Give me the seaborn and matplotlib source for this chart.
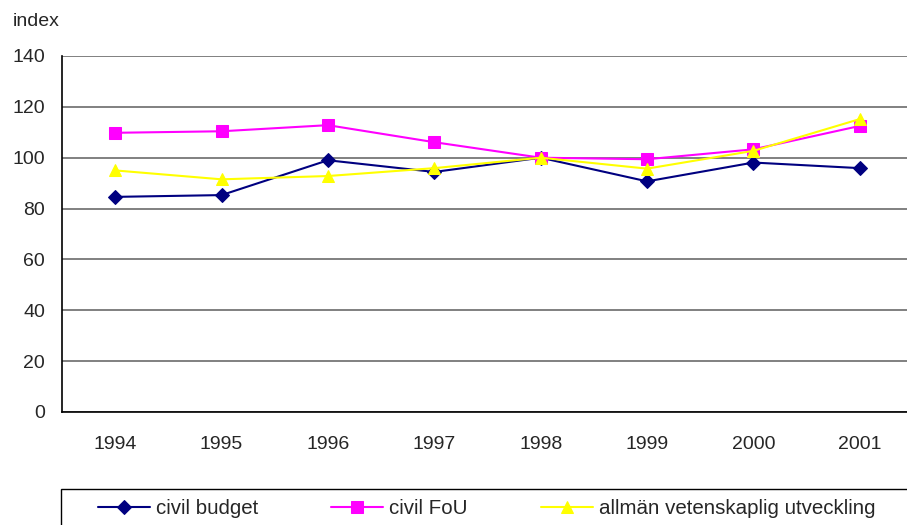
import matplotlib
matplotlib.use("Agg")
import matplotlib.pyplot as plt
from matplotlib.patches import Rectangle
import seaborn as sns
import pandas as pd
import numpy as np

years = ["1994", "1995", "1996", "1997", "1998", "1999", "2000", "2001"]
civil_budget = [84.6, 85.3, 99.0, 94.4, 100.0, 90.7, 98.1, 95.9]
civil_fou = [109.8, 110.4, 112.8, 106.1, 100.0, 99.4, 103.3, 112.5]
allman = [95.0, 91.5, 92.8, 95.9, 100.0, 95.7, 102.7, 115.2]
series_names = ["civil budget", "civil FoU", "allmän vetenskaplig utveckling"]

sns.set_style("white")
plt.rcParams['font.family'] = ['Liberation Sans', 'DejaVu Sans']
FS = 14
LFS = 14.8

rows = []
for name, vals in zip(series_names, [civil_budget, civil_fou, allman]):
    for i, v in enumerate(vals):
        rows.append({"pos": i, "value": v, "series": name})
df = pd.DataFrame(rows)

fig = plt.figure(figsize=(9.07, 5.25), dpi=100)
ax = fig.add_axes([62/907, 113/525, 851/907, 356/525])

palette = {"civil budget": "#000080", "civil FoU": "#FF00FF",
           "allmän vetenskaplig utveckling": "#FFFF00"}
markers = {"civil budget": "D", "civil FoU": "s",
           "allmän vetenskaplig utveckling": "^"}
sizes = {"civil budget": 7, "civil FoU": 8, "allmän vetenskaplig utveckling": 9}

for name in series_names:
    sub = df[df.series == name]
    sns.lineplot(data=sub, x="pos", y="value", ax=ax, color=palette[name],
                 marker=markers[name], markersize=sizes[name],
                 markeredgecolor=palette[name], linewidth=1.5, label=name,
                 legend=False)

ax.set_xlim(-0.5, 7.5)
ax.set_ylim(0, 140)
ax.set_yticks(np.arange(0, 141, 20))
ax.set_xticks(range(len(years)))
ax.set_xticklabels(years)
ax.set_xticks(np.arange(-0.5, 8, 1), minor=True)
ax.tick_params(axis='x', which='major', length=0, pad=17.5, labelsize=FS)
ax.tick_params(axis='x', which='minor', length=3.6, width=1, color='black', direction='out')
ax.tick_params(axis='y', which='major', length=3.6, width=1, color='black', direction='out', labelsize=FS, pad=8.5)
ax.yaxis.grid(True, color='#808080', linewidth=1.4)
ax.set_axisbelow(True)
ax.set_xlabel("")
ax.set_ylabel("")
for s in ["top", "right"]:
    ax.spines[s].set_visible(False)
for s in ["left", "bottom"]:
    ax.spines[s].set_color("black")
    ax.spines[s].set_linewidth(1.2)

fig.text(13/907, 1 - 21/525, "index", fontsize=FS, va='center', ha='left')

# legend box
fig.patches.append(Rectangle((61/907, -0.1), 1.0, 0.1 + 36/525, transform=fig.transFigure,
                             fill=False, edgecolor='black', linewidth=1.0))

handles, labels = ax.get_legend_handles_labels()
leg = fig.legend(handles, labels, loc='center left', ncol=3,
                 bbox_to_anchor=(98/907, 1 - 509/525),
                 frameon=False, fontsize=LFS, handlelength=2.53,
                 borderaxespad=0.0, borderpad=0.0, handletextpad=0.29,
                 columnspacing=3.55)

fig.savefig("out.png", dpi=100)
